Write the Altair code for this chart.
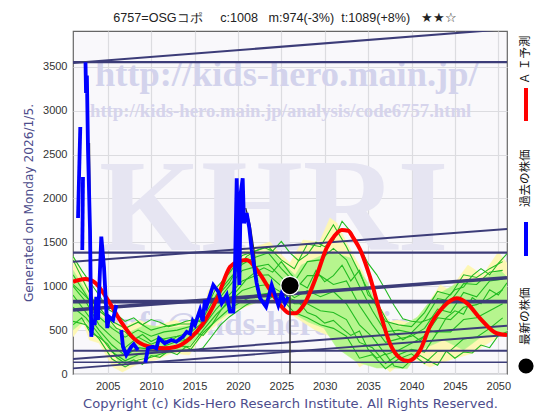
import altair as alt
import pandas as pd

# ---- axes / text
NB = "\u00a0"
title_text = f"6757=OSGコポ{NB*5}c:1008{NB*3}m:974(-3%){NB*2}t:1089(+8%){NB*3}★★☆"
ylabel = "Generated on Monday 2026/1/5."
xlabel = "Copyright (c) Kids-Hero Research Institute. All Rights Reserved."
DARK = "#3c3c78"

# ---- AI forecast (red)
red_years = [2001, 2002.4, 2003.5, 2004.9, 2006.4, 2008, 2009.5, 2011.4, 2012.9, 2014.5, 2016, 2017.6, 2019.1,
             2020, 2021, 2022.2, 2023.7, 2025, 2026, 2026.6, 2027.7, 2029.1, 2030.2, 2031.1, 2031.96, 2032.7, 2033.3,
             2034.1, 2035.2, 2036.4, 2037.5, 2038.7, 2039.6, 2041, 2042.1, 2043.7, 2045.2, 2046.4, 2047.9,
             2049.8, 2051]
red_vals = [1051, 1082, 1044, 862, 615, 406, 319, 293, 311, 406, 577, 862, 1222,
            1280, 1298, 1185, 957, 770, 691, 691, 805, 1127, 1431, 1570, 1640, 1632, 1550,
            1412, 1108, 691, 350, 179, 148, 273, 539, 767, 862, 805, 634,
            464, 444]

# ---- past prices (blue), with gaps
blue_seg = [
    ([2001.58, 2001.84], [1777, 2813]),
    ([2002.07, 2002.15], [1412, 2244]),
    ([2002.44, 2002.5, 2002.6, 2002.73, 2002.96, 2003.11, 2003.3, 2003.5, 2003.68, 2003.88, 2004.26, 2004.57,
      2004.95, 2005.15, 2005.61, 2005.99],
     [3550, 3200, 3400, 2551, 1640, 425, 615, 560, 880, 615, 1564, 1218, 523, 652, 615, 786]),
    ([2006.56, 2006.76, 2007.14, 2007.72, 2008.0, 2008.49], [501, 311, 216, 311, 340, 273]),
    ([2009.33, 2009.64, 2010.22, 2010.6, 2010.91, 2011.56, 2012.33, 2012.9, 2013.67, 2014.1, 2014.48, 2014.8,
      2015.05, 2015.63, 2015.94, 2016.2, 2016.4, 2017.16, 2017.74, 2018.13, 2018.71, 2019.09, 2019.47, 2019.66,
      2019.86, 2020.04, 2020.16, 2020.32, 2020.55, 2020.7, 2021.01, 2021.31, 2021.59, 2022.16, 2022.54, 2023.24,
      2023.89, 2024.27, 2024.65, 2025.04, 2025.42, 2025.8],
     [129, 293, 311, 293, 406, 350, 387, 368, 425, 480, 460, 600, 560, 729, 600, 843, 780, 1014, 937, 805, 900,
      710, 710, 1185, 2229, 1412, 1014, 2060, 2229, 1718, 1832, 1663, 1412, 1036, 866, 767, 1014, 900, 786, 918,
      805, 880]),
]

# ---- thin black price trace, mostly hidden behind the blue one
black_seg = [
    ([2002.9, 2003.05, 2003.3], [2630, 1200, 695]),
    ([2004.2, 2004.6, 2004.95], [1400, 1260, 600]),
    ([2020.9, 2021.4, 2021.9, 2022.2], [1890, 1700, 1378, 957]),
]

# ---- forecast envelope
yu_years = [2001, 2001.8, 2002.5, 2004, 2005.2, 2006.7, 2008.6, 2009.2, 2010.2, 2011.7, 2012.8, 2013.5, 2015.8,
            2016.6, 2018.1, 2019.7, 2020.8, 2023.7, 2024.8, 2026, 2027.5, 2029.4, 2030.6, 2031.4, 2032.5, 2034.4,
            2035.5, 2037.5, 2038.3, 2040.1, 2041.8, 2043.3, 2044.4, 2046.5, 2048.2, 2050, 2051]
yu_vals = [1344, 1185, 1036, 763, 650, 535, 615, 592, 535, 580, 615, 580, 650, 957, 1036, 1333, 1412, 1503, 1378,
           1264, 1526, 1503, 1777, 1720, 1503, 1162, 900, 592, 615, 580, 786, 1014, 957, 1241, 1128, 1390, 1264]
yl_years = [2001, 2002.2, 2002.9, 2004, 2005.6, 2006.7, 2008.7, 2010.6, 2012.4, 2014.4, 2015.5, 2017.5, 2019.3,
            2020.9, 2022.8, 2024.4, 2025.2, 2026.6, 2028.9, 2030.9, 2032.4, 2034, 2035.9, 2037.5, 2039.8, 2042.1,
            2044.4, 2047.1, 2049.4, 2051]
yl_vals = [421, 580, 387, 353, 80, 23, 125, 160, 239, 216, 387, 558, 695, 763, 843, 843, 763, 649, 501, 421, 353,
           80, 194, 23, 194, 80, 160, 239, 387, 501]
gu_years = [2001, 2002.4, 2004.1, 2006.8, 2009.3, 2012.2, 2015, 2016.4, 2017.9, 2019.4, 2020.8, 2023.7, 2025.4,
            2026.6, 2027.3, 2029, 2030.5, 2033, 2034.9, 2036.4, 2037.5, 2038.7, 2040.7, 2042.5, 2045.3, 2047.9,
            2050.2, 2051]
gu_vals = [1185, 957, 672, 444, 558, 524, 558, 843, 957, 1242, 1321, 1412, 1241, 1128, 1241, 1321, 1390, 1321,
           1048, 672, 581, 535, 649, 877, 1037, 1071, 1185, 1105]
gl_years = [2001, 2002.4, 2003.5, 2005.2, 2006.4, 2008.7, 2011, 2013.9, 2015.6, 2017.5, 2019.4, 2021.3, 2023.7,
            2025.4, 2026.1, 2028.1, 2029.9, 2031.4, 2033.7, 2036, 2037.5, 2039.5, 2041, 2043.7, 2046, 2048, 2051]
gl_vals = [501, 615, 444, 330, 102, 182, 216, 273, 444, 592, 729, 786, 866, 843, 706, 592, 524, 296, 137, 68, 70,
           60, 273, 387, 273, 421, 467]

# ---- individual forecast paths (green)
path_years = [2001, 2002.5, 2004, 2005.5, 2007, 2008.5, 2010, 2011.5, 2013, 2014.5, 2016, 2017.5, 2019, 2020.5,
              2022, 2023.5, 2025, 2026.5, 2028, 2029.5, 2031, 2032.5, 2034, 2035.5, 2037, 2038.5, 2040, 2041.5,
              2043, 2044.5, 2046, 2047.5, 2049, 2050.5]
paths = [
    [1300, 1000, 720, 600, 520, 590, 500, 540, 570, 570, 690, 980, 1150, 1350, 1400, 1450, 1300, 1200, 1480, 1450,
     1700, 1450, 1150, 850, 600, 560, 540, 700, 940, 900, 1130, 1100, 1200, 1280],
    [1130, 900, 650, 520, 420, 500, 430, 480, 500, 540, 640, 900, 1080, 1250, 1330, 1380, 1200, 1050, 1280, 1300,
     1430, 1300, 1000, 720, 480, 500, 470, 620, 860, 830, 1030, 1020, 1160, 1180],
    [1000, 820, 560, 420, 300, 420, 340, 400, 430, 470, 590, 820, 1000, 1180, 1220, 1250, 1100, 950, 1120, 1120,
     1020, 1060, 780, 560, 360, 400, 430, 520, 740, 700, 930, 880, 1060, 1080],
    [900, 700, 500, 330, 210, 300, 280, 320, 370, 390, 540, 740, 900, 1060, 1120, 1130, 1000, 870, 950, 880, 940,
     800, 560, 420, 220, 270, 350, 430, 640, 620, 760, 790, 860, 960],
    [760, 640, 450, 250, 150, 220, 240, 280, 320, 310, 500, 680, 820, 950, 1000, 1020, 930, 800, 800, 720, 700, 620,
     360, 300, 120, 220, 280, 250, 480, 480, 620, 640, 720, 800],
    [600, 560, 400, 170, 80, 160, 190, 240, 270, 270, 470, 610, 740, 830, 900, 920, 860, 700, 640, 560, 520, 430,
     180, 220, 60, 170, 230, 120, 260, 270, 400, 420, 520, 640],
]
fine_years = list(range(2001, 2052))
fine_paths = [
    [1340, 1180, 1040, 900, 740, 680, 600, 640, 560, 620, 590, 540, 560, 600, 620, 580, 720, 930, 1040, 1210, 1340,
     1400, 1440, 1400, 1510, 1380, 1290, 1360, 1500, 1450, 1520, 1740, 1620, 1450, 1260, 1130, 960, 780, 630, 600,
     590, 620, 680, 860, 960, 990, 1120, 1200, 1130, 1260, 1370],
    [1020, 930, 830, 760, 640, 520, 480, 390, 450, 370, 420, 360, 430, 390, 470, 440, 560, 720, 850, 960, 1080, 1160,
     1210, 1160, 1280, 1150, 1040, 980, 1180, 1050, 1120, 1240, 1060, 1180, 900, 820, 640, 470, 390, 450, 380, 500,
     470, 640, 720, 680, 870, 800, 960, 900, 1040],
    [560, 640, 470, 420, 340, 190, 120, 160, 110, 210, 190, 260, 220, 310, 260, 300, 430, 560, 650, 720, 790, 840,
     820, 880, 930, 860, 820, 700, 660, 580, 610, 520, 440, 490, 280, 180, 230, 90, 70, 160, 210, 150, 100, 260, 180,
     250, 240, 330, 300, 440, 480],
]

# ---- support / resistance lines: start value, end value, width
trend_years = [2001, 2051]
trends = [
    (3553, 3553, 2.2), (3542, 3929, 2),
    (1382, 1382, 2.2), (1279, 1651, 2),
    (824, 824, 3.6), (729, 1097, 3.6),
    (266, 266, 2), (171, 550, 2),
    (133, 133, 1.6), (65, 444, 1.8),
]

# ---- latest price
now_year = [2026.0]
now_val = [1008]

xs = alt.Scale(domain=[2001, 2051], nice=False, zero=False)
ys = alt.Scale(domain=[0, 3907], nice=False, zero=False)
X = alt.X("x:Q", scale=xs, axis=alt.Axis(
    values=list(range(2005, 2055, 5)), format="d", title=xlabel, grid=True, gridColor="#dcdce0", gridWidth=1.2,
    tickSize=0, domain=False, labelFont="Liberation Sans", labelFontSize=11, labelColor="#333333", labelPadding=6,
    titleFont="DejaVu Sans", titleFontSize=13.1, titleFontWeight="normal", titleColor="#4d4d8c", titlePadding=6))
Y = alt.Y("y:Q", scale=ys, axis=alt.Axis(
    values=list(range(0, 4000, 500)), format="d", title=ylabel, grid=True, gridColor="#dcdce0", gridWidth=1.2,
    tickSize=0, domain=False, labelFont="Liberation Sans", labelFontSize=11, labelColor="#333333", labelPadding=6,
    titleFont="DejaVu Sans", titleFontSize=12.2, titleFontWeight="normal", titleColor="#4d4d8c", titlePadding=7))


def curve(xv, yv):
    return pd.DataFrame({"x": xv, "y": yv})


def band(uy, uv, ly, lv, color):
    up = curve(uy, uv).assign(side=0)
    lo = curve(ly, lv).iloc[::-1].assign(side=1)
    df = pd.concat([up, lo], ignore_index=True).reset_index()
    return alt.Chart(df).mark_line(filled=True, fill=color, stroke=color, strokeWidth=0.5, clip=True).encode(
        x=X, y=Y, order="index:Q")


def wm(text, xp, yp, size, color, font="Liberation Serif", weight="bold", **kw):
    return alt.Chart(pd.DataFrame({"t": [text]})).mark_text(
        font=font, fontSize=size, fontWeight=weight, color=color, align="left", baseline="alphabetic", **kw
    ).encode(text="t:N", x=alt.value(xp), y=alt.value(yp))


layers = [
    alt.Chart(curve([2001], [0])).mark_point(opacity=0).encode(x=X, y=Y),
    wm("KHRI", 26, 219, 131, "#e6e5f2"),
    wm("http://kids-hero.main.jp/", 22, 55, 36.4, "#d3d3ec"),
    wm("http://kids-hero.main.jp/analysis/code6757.html", 17, 86, 18.7, "#d6d4ec"),
    wm("info@kids-hero.main.jp", 38, 304, 33, "#d3d3ec"),
    band(yu_years, yu_vals, yl_years, yl_vals, "#fdf7b4"),
    band(gu_years, gu_vals, gl_years, gl_vals, "#b6f58e"),
]
for p in paths:
    layers.append(alt.Chart(curve(path_years, p)).mark_line(color="#22bb22", strokeWidth=1.1, clip=True).encode(x=X, y=Y))
for p in fine_paths:
    layers.append(alt.Chart(curve(fine_years, p)).mark_line(color="#22bb22", strokeWidth=1.1, clip=True).encode(x=X, y=Y))
for a, b, w in trends:
    layers.append(alt.Chart(curve(trend_years, [a, b])).mark_line(color=DARK, strokeWidth=w, clip=True).encode(x=X, y=Y))
for xv, yv in black_seg:
    layers.append(alt.Chart(curve(xv, yv)).mark_line(color="#333333", strokeWidth=1.3, clip=True).encode(x=X, y=Y))
layers.append(alt.Chart(curve(red_years, red_vals)).mark_line(
    color="#ff0000", strokeWidth=4, clip=True, interpolate="monotone").encode(x=X, y=Y))
for xv, yv in blue_seg:
    layers.append(alt.Chart(curve(xv, yv)).mark_line(color="#0000ff", strokeWidth=3.8, clip=True).encode(x=X, y=Y))
now = curve(now_year, now_val)
layers.append(alt.Chart(now.assign(y0=0)).mark_rule(color="#333333", strokeWidth=1.5).encode(x=X, y=Y, y2="y0:Q"))
layers.append(alt.Chart(now).mark_point(filled=True, color="#000000", size=340, opacity=1, stroke="white",
                                        strokeWidth=1.2, fillOpacity=1, strokeOpacity=1).encode(x=X, y=Y))

# ---- vertical key on the right
KEY_X = 453
for text, yp in [("Ａ Ｉ予測", 53), ("過去の株価", 176), ("最新の株価", 314)]:
    layers.append(alt.Chart(pd.DataFrame({"t": [text]})).mark_text(
        font="Noto Sans CJK JP", fontSize=11.5, color="#111111", angle=270, align="left", baseline="middle"
    ).encode(text="t:N", x=alt.value(KEY_X), y=alt.value(yp)))
for color, y1, y2 in [("#ff0000", 57, 90), ("#0000ff", 191, 225)]:
    layers.append(alt.Chart(pd.DataFrame({"a": [0]})).mark_rule(color=color, strokeWidth=4).encode(
        x=alt.value(KEY_X), y=alt.value(y1), y2=alt.value(y2)))
layers.append(alt.Chart(pd.DataFrame({"a": [0]})).mark_point(filled=True, color="#000000", size=230, opacity=1).encode(
    x=alt.value(KEY_X), y=alt.value(335)))

chart = alt.layer(*layers).properties(
    width=434, height=343, background="white",
    padding={"left": 65, "top": 23, "right": 45, "bottom": 38},
    autosize=alt.AutoSizeParams(type="none"),
    title=alt.TitleParams(title_text, font="Liberation Sans", fontSize=12.6, fontWeight="normal", color="#222222",
                          anchor="middle", dx=-5, offset=6),
).configure_view(fill="#f9f8fb", stroke="#666666", strokeWidth=1.2)

chart.save("out.html", embed_options={"renderer": "svg", "actions": False})
